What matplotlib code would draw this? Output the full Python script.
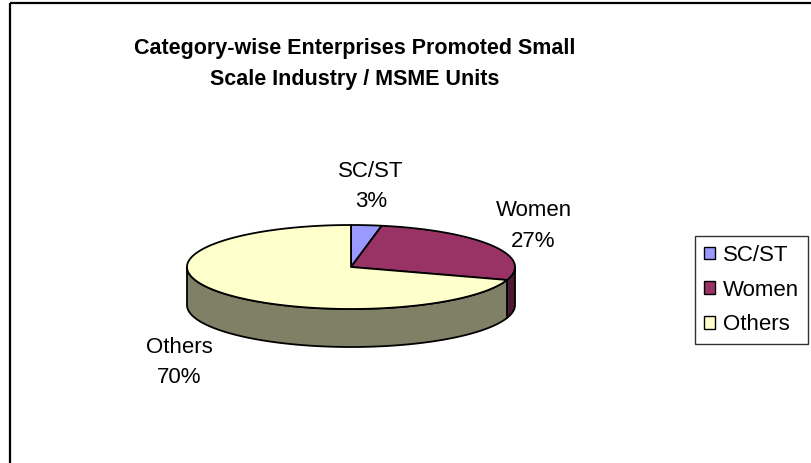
import numpy as np
import matplotlib.pyplot as plt
from matplotlib.patches import Polygon, Patch

plt.rcParams['font.family'] = ['Liberation Sans', 'DejaVu Sans']

title = "Category-wise Enterprises Promoted Small\nScale Industry / MSME Units"
categories = ['SC/ST', 'Women', 'Others']
values = [3, 27, 70]
colors = ['#9999FF', '#993366', '#FFFFCC']
side_colors = ['#4D4D80', '#4D1933', '#808066']

fig = plt.figure(figsize=(8.11, 4.63), dpi=100)
ax = fig.add_axes([0, 0, 1, 1])
ax.set_xlim(0, 811)
ax.set_ylim(463, 0)
ax.axis('off')

# chart frame
ax.plot([10, 10], [2.5, 463], color='black', lw=1.6, solid_capstyle='butt')
ax.plot([10, 811], [2.5, 2.5], color='black', lw=1.6, solid_capstyle='butt')

cx, cy, rx, ry, depth = 351, 267, 164, 42, 38


def pt(theta_deg, dy=0.0):
    t = np.radians(theta_deg)
    return np.column_stack([cx + rx * np.sin(t), cy - ry * np.cos(t) + dy])


total = float(sum(values))
bounds = np.concatenate([[0.0], np.cumsum(values) / total * 360.0])

# side walls (front half)
for i in range(len(values)):
    a, b = bounds[i], bounds[i + 1]
    lo, hi = max(a, 90.0), min(b, 270.0)
    if lo < hi:
        th = np.linspace(lo, hi, 200)
        top = pt(th)
        bot = pt(th[::-1], depth)
        poly = Polygon(np.vstack([top, bot]), closed=True, facecolor=side_colors[i],
                       edgecolor='black', lw=1.3, joinstyle='round')
        ax.add_patch(poly)

# top faces
for i in range(len(values)):
    a, b = bounds[i], bounds[i + 1]
    th = np.linspace(a, b, 300)
    arc = pt(th)
    poly = Polygon(np.vstack([[cx, cy], arc]), closed=True, facecolor=colors[i],
                   edgecolor='black', lw=1.3, joinstyle='round')
    ax.add_patch(poly)

# data labels
rxl, ryl = 212, 81
for i in range(len(values)):
    mid = (bounds[i] + bounds[i + 1]) / 2
    t = np.radians(mid)
    lx = cx + rxl * np.sin(t)
    ly = cy - ryl * np.cos(t)
    if np.cos(t) < 0:
        ly += depth + 10
    pct = values[i] / total * 100
    ax.text(lx, ly, f"{categories[i]}\n{pct:.0f}%", ha='center', va='center',
            fontsize=16, linespacing=1.6)

# title
fig.text(355 / 811, 1 - 64 / 463, title, ha='center', va='center', fontsize=15.5,
         fontweight='bold', linespacing=1.62)

# legend
handles = [Patch(facecolor=c, edgecolor='black', lw=1.0) for c in colors]
leg = ax.legend(handles, categories, loc='upper left',
                bbox_to_anchor=(695 / 811, 1 - 236 / 463), bbox_transform=fig.transFigure,
                frameon=True, fancybox=False, edgecolor='black', fontsize=16,
                handlelength=0.5, handleheight=0.5, handletextpad=0.37,
                labelspacing=0.62, borderpad=0.4, borderaxespad=0)
leg.get_frame().set_linewidth(1.0)

fig.savefig('out.png', dpi=100)
